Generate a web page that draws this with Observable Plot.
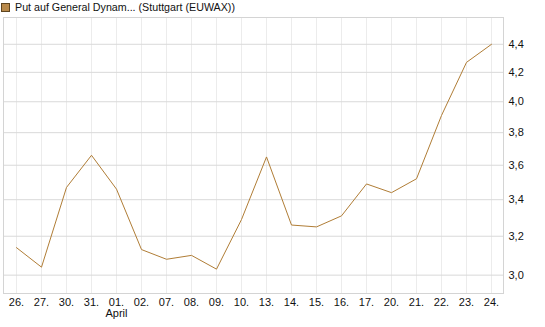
<!DOCTYPE html>
<html>
<head>
<meta charset="utf-8">
<script src="https://cdn.jsdelivr.net/npm/d3@7"></script>
<script src="https://cdn.jsdelivr.net/npm/@observablehq/plot@0.6"></script>
<style>
  html, body { margin: 0; padding: 0; background: #fff; }
  #wrap { position: relative; width: 545px; height: 327px; font-family: "Liberation Sans", Arial, sans-serif; }
  #legend { position: absolute; left: 1px; top: 1px; font-size: 10.7px; line-height: 12px; color: #111; display: flex; align-items: center; white-space: nowrap; }
  #legend .sw { width: 7px; height: 7px; background: #b8894a; border: 1px solid #5e4520; margin-right: 5px; }
</style>
</head>
<body>
<div id="wrap">
  <div id="legend"><span class="sw"></span><span>Put auf General Dynam... (Stuttgart (EUWAX))</span></div>
</div>
<script>
const dates = ["26.","27.","30.","31.","01.","02.","07.","08.","09.","10.","13.","14.","15.","16.","17.","20.","21.","22.","23.","24."];
const months = ["","","","","April","","","","","","","","","","","","","","",""];
const values = [3.14,3.04,3.47,3.66,3.46,3.13,3.08,3.10,3.03,3.29,3.65,3.26,3.25,3.31,3.49,3.44,3.52,3.91,4.27,4.40];
const yTicks = [3.0,3.2,3.4,3.6,3.8,4.0,4.2,4.4];

const data = dates.map((d, i) => ({date: d, value: values[i]}));
const monthOf = new Map(dates.map((d, i) => [d, months[i]]));

const chart = Plot.plot({
  width: 545,
  height: 327,
  marginLeft: 3,
  marginRight: 42,
  marginTop: 17,
  marginBottom: 34,
  style: {fontFamily: "Liberation Sans, Arial, sans-serif", fontSize: "11px", color: "#111", background: "#fff"},
  x: {type: "point", domain: dates, padding: 0.5},
  y: {type: "log", domain: [2.91, 4.60]},
  marks: [
    Plot.gridX(dates, {stroke: "#ececec", strokeOpacity: 1}),
    Plot.gridY(yTicks, {stroke: "#d9d9d9", strokeOpacity: 1}),
    Plot.frame({stroke: "#d4d4d4"}),
    Plot.line(data, {x: "date", y: "value", stroke: "#b07d36", strokeWidth: 1}),
    Plot.axisY(yTicks, {anchor: "right", tickSize: 0, tickPadding: 5, label: null,
      tickFormat: d => d.toFixed(1).replace(".", ",")}),
    Plot.axisX(dates, {anchor: "bottom", tickSize: 0, tickPadding: 5, label: null,
      tickFormat: d => monthOf.get(d) ? d + "\n" + monthOf.get(d) : d})
  ]
});
document.getElementById("wrap").appendChild(chart);
</script>
</body>
</html>
